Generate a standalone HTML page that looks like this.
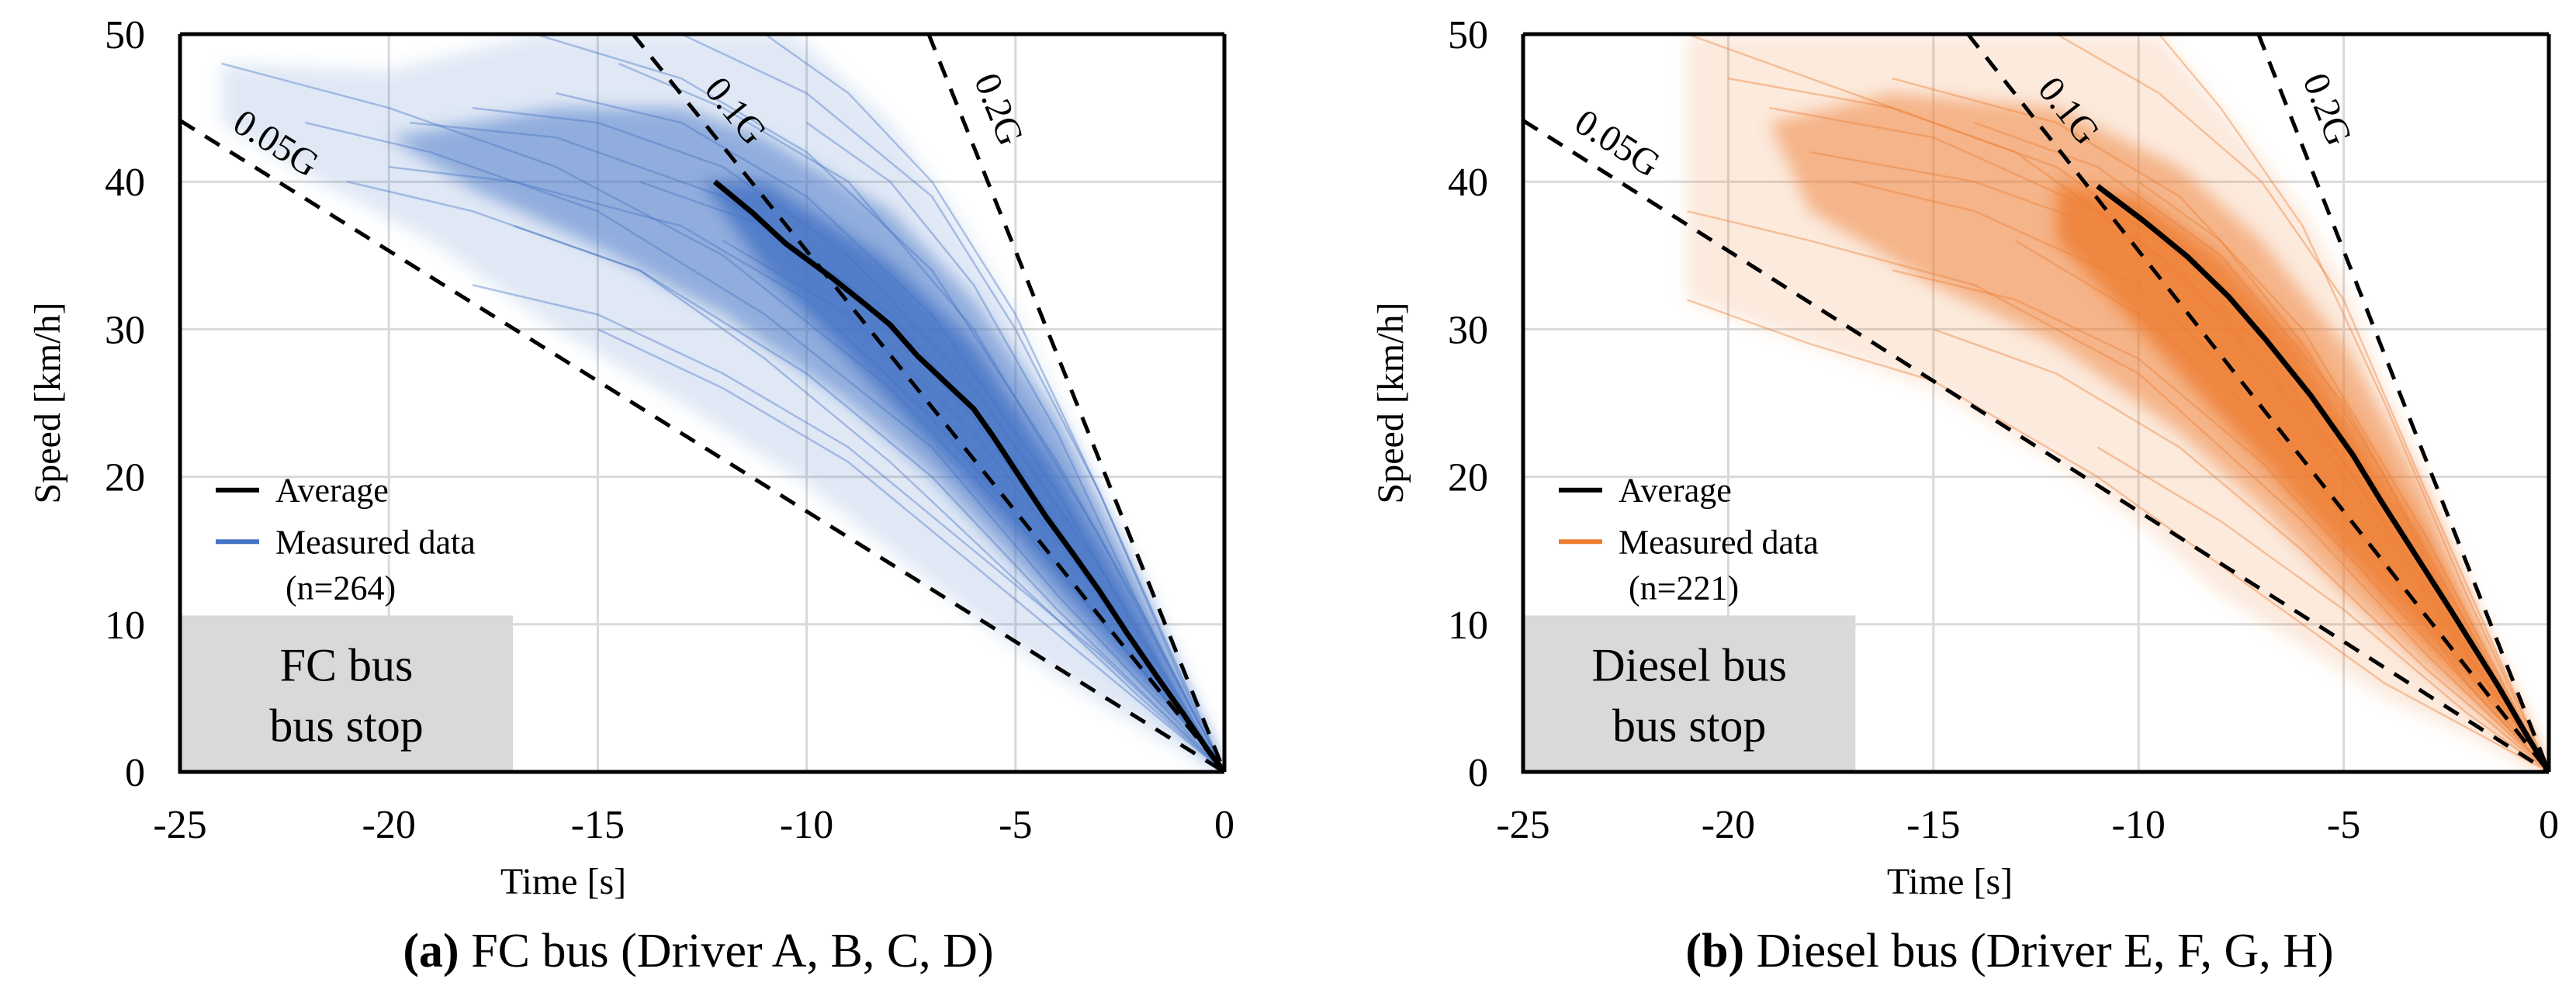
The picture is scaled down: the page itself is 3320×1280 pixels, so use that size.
<!DOCTYPE html>
<html><head><meta charset="utf-8">
<style>
html,body{margin:0;padding:0;background:#fff;}
svg{display:block;font-family:"Liberation Serif",serif;}
</style></head>
<body>
<svg id="fig" width="3320" height="1280" viewBox="0 0 3320 1280" xmlns="http://www.w3.org/2000/svg"></svg>
<script>
// ---------- data ----------
const xTicks = [-25,-20,-15,-10,-5,0];
const yTicks = [0,10,20,30,40,50];
const gLevels = [0.05,0.1,0.2];
const gLabels = ["0.05G","0.1G","0.2G"];
const gLabelPos = [[-22.7,42.6],[-11.7,44.8],[-5.4,44.9]];

const fcAverage = [[-12.2,40],[-11.3,37.9],[-10.5,35.8],[-9.4,33.5],[-8.6,31.7],[-8,30.3],[-7.35,28.2],[-6.6,26.2],[-6,24.6],[-5.55,22.8],[-4.9,20],[-4.27,17.3],[-3.6,14.7],[-3,12.3],[-2.33,9.4],[-1.6,6.4],[-1,4],[-0.4,1.5],[0,0]];
const dieselAverage = [[-11,39.7],[-9.9,37.4],[-8.8,34.9],[-7.8,32.2],[-6.9,29.3],[-5.8,25.5],[-4.78,21.5],[-4.1,18.4],[-3.5,15.8],[-2.4,11],[-1.23,5.8],[-0.5,2.3],[0,0]];

const fcOuterBand = [[-24,48],[-20,47.5],[-16.5,50],[-10.3,50],[-8,44],[-6.5,38],[-5,31],[-3.5,22],[-2,12.5],[0,0],[-0.5,0.5],[-2,3],[-4,6.5],[-6,10.5],[-8,15],[-10,19.5],[-13,25],[-16,30],[-19,36],[-22,40.5],[-24,44]];
const fcDenseBand = [[-20,43],[-16,45],[-13,45],[-11,43],[-8,38],[-6,32],[-4,24],[-2,13],[0,0],[-1,3],[-3,8],[-5,14],[-7,20],[-9,25],[-12,31],[-15,35.5],[-18,39.5]];
const fcCoreBand = [[-12.5,40],[-11,40],[-8,34.5],[-6,29],[-4,20.5],[-2,10.8],[0,0],[-1.5,4.5],[-3,9.5],[-5,16],[-7,22],[-9,28],[-11,34]];

const dieselOuterBand = [[-21,50],[-9.5,50],[-8,45],[-6,38],[-5,33],[-4,26],[-2,13],[0,0],[-0.5,0.3],[-2,2.5],[-4,5],[-6,8.5],[-8,12],[-10,17],[-12,21],[-15,26],[-18,29],[-21,32]];
const dieselDenseBand = [[-19,44],[-16,46],[-12,45],[-9,41],[-7,36],[-5,29],[-3,19],[-1.5,9],[0,0],[-1,2.5],[-3,7],[-5,12],[-7,18],[-9,23],[-12,29],[-15,33],[-18,38]];
const dieselCoreBand = [[-12,40],[-10,39],[-8,35],[-6,29],[-3,16],[0,0],[-1.5,4.5],[-4,11.5],[-7,21],[-10,30],[-12,36]];

const fcCurves = [
 [[-24,48],[-20,45],[-16,41],[-12,35],[-8,26],[-5,17],[-2,7],[0,0]],
 [[-19.5,44],[-16,43],[-12,39],[-9,33],[-6,24],[-3,12],[0,0]],
 [[-21,40],[-18,38],[-14,34],[-10,27],[-7,20],[-4,11],[0,0]],
 [[-16.5,50],[-13,47],[-10,42],[-7,34],[-4,21],[-2,11],[0,0]],
 [[-13,50],[-10,46],[-7,39],[-5,30],[-3,19],[0,0]],
 [[-15,30],[-12,26],[-9,21],[-6,14],[-3,7],[0,0]],
 [[-17,37],[-14,34],[-11,28],[-8,21],[-5,13],[-2,5],[0,0]],
 [[-11,50],[-9,46],[-7,40],[-5,31],[-3,19],[-1,6],[0,0]],
 [[-18,45],[-15,44],[-12,41],[-9,35],[-6,26],[-3,14],[0,0]],
 [[-14,40],[-11,37],[-8,31],[-5,21],[-2,8],[0,0]],
 [[-22,44],[-19,42],[-15,38],[-11,31],[-7,22],[-4,12],[0,0]],
 [[-12,36],[-9,31],[-6,23],[-3,12],[0,0]],
 [[-16,46],[-13,44],[-10,39],[-7,31],[-4,19],[-2,9],[0,0]],
 [[-10,44],[-8,40],[-6,33],[-4,23],[-2,11],[0,0]],
 [[-20,41],[-17,40],[-13,37],[-10,32],[-7,24],[-4,14],[0,0]],
 [[-18,33],[-15,31],[-12,27],[-9,22],[-6,15],[-3,8],[0,0]],
 [[-14.5,48],[-12,45],[-9,40],[-6,30],[-3,16],[0,0]]
];
const dieselCurves = [
 [[-21,50],[-17,46],[-13,42],[-9,34],[-6,24],[-3,12],[0,0]],
 [[-21,32],[-18,29],[-15,26.5],[-11,20],[-7,12],[-4,6],[0,0]],
 [[-19,45],[-15,43],[-11,38],[-8,31],[-5,21],[-2,8],[0,0]],
 [[-16,47],[-12,44],[-9,39],[-6,30],[-3,16],[0,0]],
 [[-15,30],[-12,27],[-9,22],[-6,15],[-3,7],[0,0]],
 [[-12,50],[-9.5,46],[-7,40],[-5,32],[-3,19],[0,0]],
 [[-17,40],[-14,38],[-10,33],[-7,25],[-4,14],[-2,6],[0,0]],
 [[-14,44],[-11,41],[-8,35],[-5,25],[-2,10],[0,0]],
 [[-13,36],[-10,31],[-7,24],[-4,14],[-1.5,5],[0,0]],
 [[-18,42],[-14,40],[-10,36],[-7,29],[-4,17],[0,0]],
 [[-9.5,50],[-8,45],[-6,37],[-4,25],[-2,12],[0,0]],
 [[-11,22],[-8,17],[-5,11],[-2,4],[0,0]],
 [[-20,47],[-16,45],[-12,41],[-8,33],[-5,23],[-2,9],[0,0]],
 [[-10,40],[-8,36],[-6,29],[-4,20],[-2,9],[0,0]],
 [[-21,38],[-18,36],[-14,33],[-10,27],[-6,17],[-3,8],[0,0]],
 [[-16,34],[-13,32],[-10,28],[-7,21],[-4,12],[0,0]]
];

// ---------- drawing ----------
const NS = "http://www.w3.org/2000/svg";
const svg = document.getElementById("fig");
function mk(tag, attrs, parent){
  const e = document.createElementNS(NS, tag);
  for (const k in attrs) e.setAttribute(k, attrs[k]);
  (parent||svg).appendChild(e);
  return e;
}
function drawChart(o){
  const g = mk("g", {});
  
  
  const X = t => o.x0 + (t + 25) / 25 * (o.x1 - o.x0);
  const Y = v => o.y1 - v / 50 * (o.y1 - o.y0);
  const clipId = o.id + "-clip";
  const defs = mk("defs", {}, g);
  const cp = mk("clipPath", {id: clipId}, defs);
  mk("rect", {x:o.x0, y:o.y0, width:o.x1-o.x0, height:o.y1-o.y0}, cp);
  const blurId = o.id + "-blur";
  const fl = mk("filter", {id: blurId, filterUnits:"userSpaceOnUse", x:0, y:0, width:3320, height:1280}, defs);
  mk("feGaussianBlur", {stdDeviation: 10}, fl);

  xTicks.forEach(t => {
    if (t === -25 || t === 0) return;
    const l = mk("line", {x1:X(t), x2:X(t), y1:o.y0, y2:o.y1, stroke:"#d9d9d9", "stroke-width":3}, g);
    
    
  });
  yTicks.forEach(v => {
    if (v === 0 || v === 50) return;
    const l = mk("line", {x1:o.x0, x2:o.x1, y1:Y(v), y2:Y(v), stroke:"#d9d9d9", "stroke-width":3}, g);
    
    
  });

  const plot = mk("g", {"clip-path":"url(#"+clipId+")"}, g);
  const pts = arr => arr.map(p => X(p[0]).toFixed(1)+","+Y(p[1]).toFixed(1)).join(" ");

  const bands = mk("g", {filter:"url(#"+blurId+")"}, plot);
  [[o.outer,0.16],[o.dense,0.5],[o.core,0.8]].forEach(b => {
    const p = mk("polygon", {points:pts(b[0]), fill:o.color, "fill-opacity":b[1], stroke:"none"}, bands);
    
    
  });
  o.curves.forEach(c => {
    const p = mk("polyline", {points:pts(c), fill:"none", stroke:o.color, "stroke-opacity":0.4, "stroke-width":2.5, "stroke-linejoin":"round"}, plot);
    
    
  });

  gLevels.forEach((a, i) => {
    const slope = a * 9.81 * 3.6;
    const tStart = Math.max(-25, -50 / slope);
    const l = mk("line", {x1:X(tStart), y1:Y(-tStart*slope), x2:X(0), y2:Y(0), stroke:"#000", "stroke-width":5, "stroke-dasharray":"22 16"}, plot);
    
    
    const px = (o.x1 - o.x0) / 25, py = (o.y1 - o.y0) / 50;
    const ang = Math.atan(slope * py / px) * 180 / Math.PI;
    const lx = X(gLabelPos[i][0]), ly = Y(gLabelPos[i][1]);
    const tx = mk("text", {x:lx, y:ly, "font-size":48, "text-anchor":"middle", "dominant-baseline":"central", transform:"rotate("+ang.toFixed(1)+" "+lx+" "+ly+")"}, g);
    tx.textContent = gLabels[i];
    
    
  });

  const av = mk("polyline", {points:pts(o.avg), fill:"none", stroke:"#000", "stroke-width":7, "stroke-linejoin":"round"}, plot);
  
  

  const bx = mk("rect", {x:o.x0, y:Y(10.6), width:X(o.boxEnd)-o.x0, height:o.y1-Y(10.6), fill:"#d9d9d9"}, g);
  
  
  const bcx = (o.x0 + X(o.boxEnd)) / 2;
  o.boxText.forEach((s, i) => {
    const t = mk("text", {x:bcx, y:Y(10.6) + 84 + i*78, "font-size":60, "text-anchor":"middle"}, g);
    t.textContent = s;
    
    
  });

  const ax = mk("path", {d:"M"+o.x0+","+o.y0+" L"+o.x0+","+o.y1+" L"+o.x1+","+o.y1+" M"+o.x0+","+o.y0+" L"+o.x1+","+o.y0+" M"+o.x1+","+o.y0+" L"+o.x1+","+o.y1, fill:"none", stroke:"#000", "stroke-width":5}, g);
  
  

  xTicks.forEach(t => {
    const e = mk("text", {x:X(t), y:o.y1+85, "font-size":52, "text-anchor":"middle"}, g);
    e.textContent = t;
    
    
  });
  yTicks.forEach(v => {
    const e = mk("text", {x:o.x0-45, y:Y(v)+18, "font-size":52, "text-anchor":"end"}, g);
    e.textContent = v;
    
    
  });
  const xt = mk("text", {x:o.xTitleX, y:1152, "font-size":48, "text-anchor":"middle"}, g);
  xt.textContent = "Time [s]";
  
  
  const ytx = o.x0 - 155, yty = (o.y0 + o.y1) / 2;
  const yt = mk("text", {x:ytx, y:yty, "font-size":48, "text-anchor":"middle", transform:"rotate(-90 "+ytx+" "+yty+")"}, g);
  yt.textContent = "Speed [km/h]";
  
  

  const lx = o.x0 + 46;
  const l1 = mk("line", {x1:lx, x2:lx+56, y1:Y(19.1), y2:Y(19.1), stroke:"#000", "stroke-width":6}, g);
  
  
  const t1 = mk("text", {x:lx+77, y:Y(19.1)+15, "font-size":44}, g);
  t1.textContent = "Average";
  
  
  const l2 = mk("line", {x1:lx, x2:lx+56, y1:Y(15.6), y2:Y(15.6), stroke:o.color, "stroke-width":6}, g);
  
  
  const t2 = mk("text", {x:lx+77, y:Y(15.6)+15, "font-size":44}, g);
  t2.textContent = "Measured data";
  
  
  const t3 = mk("text", {x:lx+90, y:Y(12.5)+15, "font-size":44}, g);
  t3.textContent = o.nText;
  
  

  const cap = mk("text", {x:o.capX, y:1246, "font-size":62, "text-anchor":"middle"}, g);
  const b = mk("tspan", {"font-weight":"bold"}, cap);
  b.textContent = o.capBold;
  const r = mk("tspan", {}, cap);
  r.textContent = o.capRest;
  
  
}

drawChart({id:"fc-bus", x0:232, x1:1578, y0:44, y1:995, color:"#4472C4",
  outer:fcOuterBand, dense:fcDenseBand, core:fcCoreBand, curves:fcCurves, avg:fcAverage,
  boxEnd:-17.03, boxText:["FC bus","bus stop"], nText:"(n=264)", xTitleX:726,
  capX:900, capBold:"(a)", capRest:" FC bus (Driver A, B, C, D)"});
drawChart({id:"diesel-bus", x0:1963, x1:3285, y0:44, y1:995, color:"#ED7D31",
  outer:dieselOuterBand, dense:dieselDenseBand, core:dieselCoreBand, curves:dieselCurves, avg:dieselAverage,
  boxEnd:-16.9, boxText:["Diesel bus","bus stop"], nText:"(n=221)", xTitleX:2513,
  capX:2590, capBold:"(b)", capRest:" Diesel bus (Driver E, F, G, H)"});
</script>
</body></html>
